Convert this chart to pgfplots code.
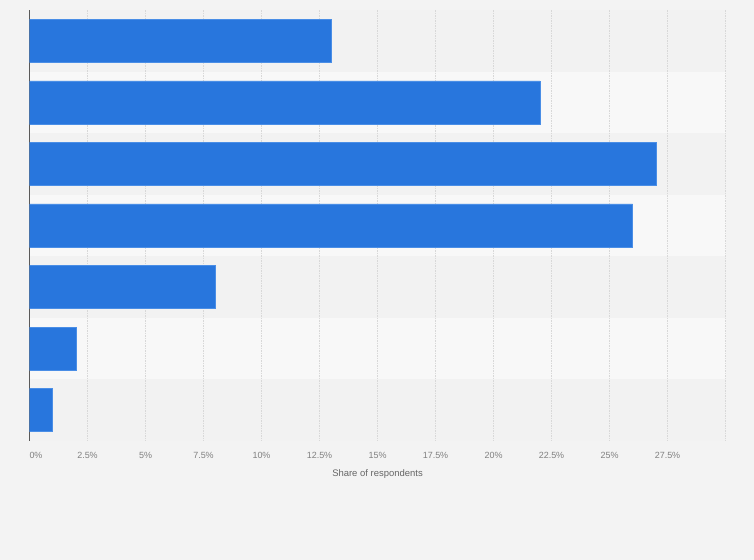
\documentclass[border=0pt]{standalone}
\usepackage{fontspec}
\setmainfont{Liberation Sans}
\usepackage{pgfplots}
\pgfplotsset{compat=1.18}
\definecolor{bg}{HTML}{F3F3F3}
\definecolor{bandlight}{HTML}{F8F8F8}
\definecolor{banddark}{HTML}{F2F2F2}
\definecolor{barblue}{HTML}{2876DD}
\definecolor{baredge}{HTML}{4A8EE6}
\definecolor{gridc}{HTML}{D8D8D8}
\definecolor{ticktext}{HTML}{808080}
\pagecolor{bg}
\begin{document}
\begin{tikzpicture}
\path (0,0) rectangle (754bp,560bp);
\begin{axis}[
  at={(29.5bp,119bp)}, anchor=south west,
  scale only axis, width=696bp, height=431bp,
  set layers,
  xbar, bar width=0.7,
  y dir=reverse,
  xmin=0, xmax=30, ymin=-0.5, ymax=6.5,
  xtick={0,2.5,...,30},
  xticklabels={\rlap{0\%},2.5\%,5\%,7.5\%,10\%,12.5\%,15\%,17.5\%,20\%,22.5\%,25\%,27.5\%,},
  ytick=\empty,
  major tick length=0pt,
  axis y line*=left, axis x line*=bottom,
  x axis line style={draw=none},
  y axis line style={draw=black!65, line width=1bp},
  xmajorgrids,
  grid style={gridc, line width=0.6bp, dash pattern=on 1.5bp off 1bp},
  x tick label style={font=\fontsize{9}{11}\selectfont, text=ticktext, yshift=-8bp},
  xlabel={Share of respondents},
  xlabel style={font=\fontsize{9.5}{11}\selectfont, text=black!60, at={(axis description cs:0.5,0)}, anchor=center, yshift=-33bp},
]
\begin{pgfonlayer}{axis background}
\fill[banddark] (axis cs:0,-0.5) rectangle (axis cs:30,0.5);
\fill[bandlight] (axis cs:0,0.5) rectangle (axis cs:30,1.5);
\fill[banddark] (axis cs:0,1.5) rectangle (axis cs:30,2.5);
\fill[bandlight] (axis cs:0,2.5) rectangle (axis cs:30,3.5);
\fill[banddark] (axis cs:0,3.5) rectangle (axis cs:30,4.5);
\fill[bandlight] (axis cs:0,4.5) rectangle (axis cs:30,5.5);
\fill[banddark] (axis cs:0,5.5) rectangle (axis cs:30,6.5);
\end{pgfonlayer}
\addplot[fill=barblue, draw=baredge, line width=0.6bp] coordinates {
(13,0) (22,1) (27,2) (26,3) (8,4) (2,5) (1,6)
};
\end{axis}
\end{tikzpicture}
\end{document}
